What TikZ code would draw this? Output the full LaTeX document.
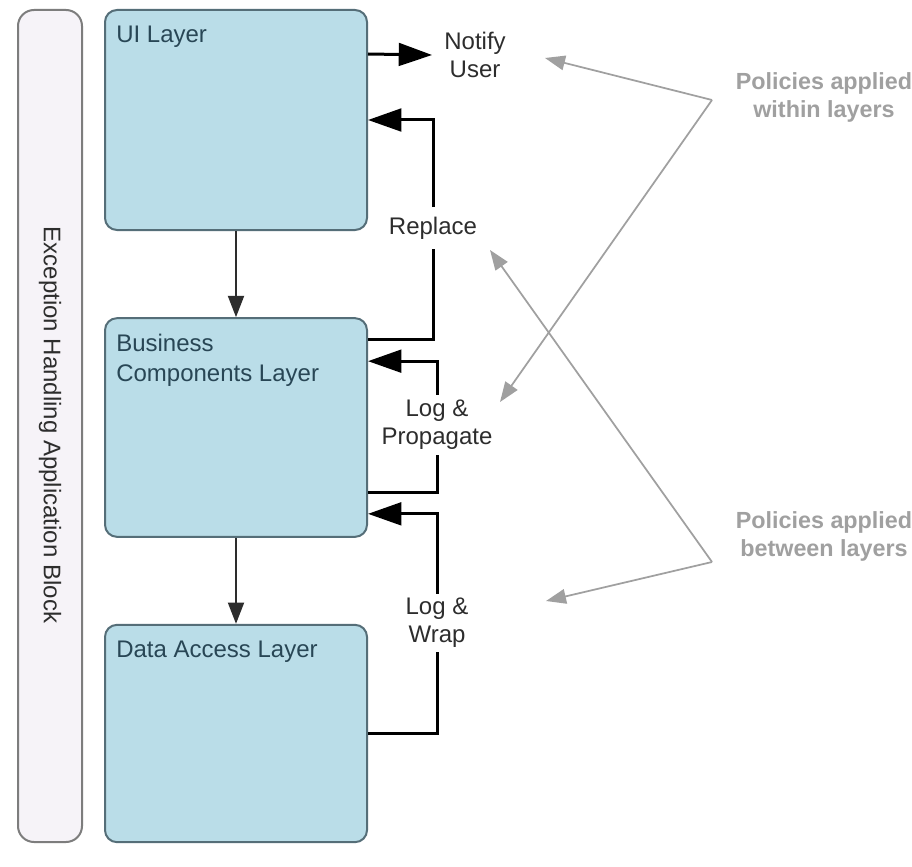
\documentclass[tikz,border=0pt]{standalone}
\usepackage{fontspec}
\setmainfont{Liberation Sans}
\usetikzlibrary{arrows.meta,calc}
\definecolor{boxfill}{RGB}{186,221,232}
\definecolor{boxline}{RGB}{85,110,120}
\definecolor{boxtext}{RGB}{40,70,85}
\definecolor{barfill}{RGB}{246,243,248}
\definecolor{barline}{RGB}{125,125,125}
\definecolor{labtext}{RGB}{45,45,45}
\definecolor{policy}{RGB}{160,160,160}
\begin{document}
\begin{tikzpicture}[x=0.75pt,y=-0.75pt,
  layerbox/.style={draw=boxline, line width=1.5pt, fill=boxfill, rounded corners=9pt, minimum width=196.5pt, inner sep=0pt},
  barbox/.style={draw=barline, line width=1.5pt, fill=barfill, rounded corners=12pt, minimum width=48pt, minimum height=624pt, inner sep=0pt},
  layername/.style={anchor=north west, inner sep=0pt, text=boxtext, align=left, font=\fontsize{18}{22}\selectfont},
  lab/.style={align=center, text=labtext, font=\fontsize{18}{21}\selectfont, inner xsep=2pt, inner ysep=4pt},
  policytext/.style={align=center, text=policy, font=\fontsize{17.5}{21}\selectfont\bfseries},
  flow/.style={line width=2.25pt, black},
  flowarrow/.style={flow, -{Triangle[length=25pt,width=17pt]}},
  downarrow/.style={line width=1.5pt, draw=labtext, -{Triangle[length=16pt,width=12pt]}},
  pointer/.style={line width=1.3pt, draw=policy, -{Triangle[length=15pt,width=11pt]}}
]
\clip (0,0) rectangle (912,866);
\fill[white] (0,0) rectangle (912,866);

% side bar
\node[barbox] (bar) at (50,426) {};
\node[rotate=-90, text=labtext, font=\fontsize{18}{22}\selectfont] (bartext) at (50,425) {Exception Handling Application Block};

% layers
\node[layerbox, minimum height=165pt] (ui) at (236,120) {};
\node[layerbox, minimum height=164pt] (biz) at (236,427.5) {};
\node[layerbox, minimum height=163pt] (dal) at (236,733.5) {};

\node[layername] (uiname) at ($(ui.north west)+(12,17)$) {UI Layer};
\node[layername] (bizname) at ($(biz.north west)+(12,17)$) {Business\\Components Layer};
\node[layername] (dalname) at ($(dal.north west)+(12,17)$) {Data Access Layer};

% vertical arrows
\draw[downarrow] (ui.south) -- (biz.north);
\draw[downarrow] (biz.south) -- (dal.north);

% labels
\node[lab, inner xsep=9pt] (notify) at (475,55) {Notify\\User};
\node[lab, inner ysep=7pt] (rep) at (433,228) {Replace};
\node[lab, inner ysep=4pt] (prop) at (437,425) {Log \&\\Propagate};
\node[lab, inner ysep=3pt] (wrap) at (437,623) {Log \&\\Wrap};

% notify
\draw[flowarrow] ($(ui.north east)+(0,45)$) -- (notify.west);

% replace
\draw[flow] ($(biz.north east)+(0,22)$) -| (rep.south);
\draw[flowarrow] (rep.north) |- (ui.east);

% log & propagate
\draw[flow] ($(biz.south east)+(0,-45)$) -| (prop.south);
\draw[flowarrow] (prop.north) |- ($(biz.north east)+(0,44)$);

% log & wrap
\draw[flow] ($(dal.north east)+(0,110)$) -| (wrap.south);
\draw[flowarrow] (wrap.north) |- ($(biz.south east)+(0,-24)$);

% policy annotations
\node[policytext] (within) at (824,97) {Policies applied\\within layers};
\node[policytext] (between) at (824,536) {Policies applied\\between layers};
\coordinate (wa) at (712,100);
\coordinate (ba) at (712,562);
\coordinate (wt1) at (545,58);
\coordinate (wt2) at (500,402);
\coordinate (bt1) at (490,250);
\coordinate (bt2) at (546,601);
\draw[pointer] (wa) -- (wt1);
\draw[pointer] (wa) -- (wt2);
\draw[pointer] (ba) -- (bt1);
\draw[pointer] (ba) -- (bt2);
\end{tikzpicture}
\end{document}
